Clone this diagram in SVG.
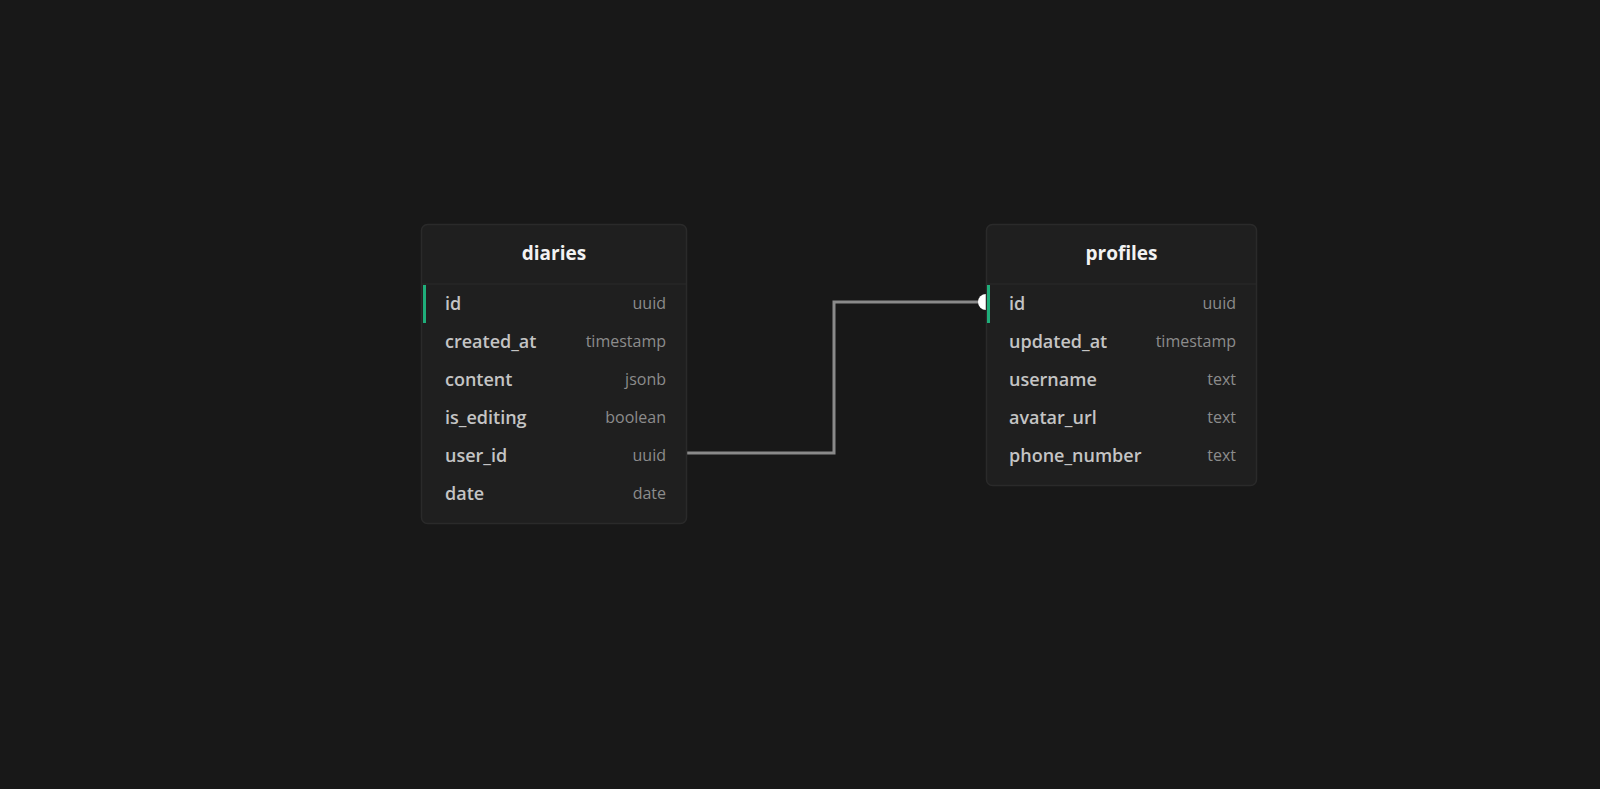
<svg xmlns="http://www.w3.org/2000/svg" width="1600" height="789" viewBox="0 0 1600 789">
<defs>
<style>
.bg{fill:#181818}
.node{fill:#1f1f1f;stroke:#2a2a2a;stroke-width:1.5}
.sep{stroke:#2b2b2b;stroke-width:1}
.title{font-family:"Open Sans","Liberation Sans",sans-serif;font-weight:700;font-size:19px;fill:#f2f2f2;text-anchor:middle}
.col{font-family:"Open Sans","Liberation Sans",sans-serif;font-weight:600;font-size:18px;fill:#c4c4c4}
.type{font-family:"Open Sans","Liberation Sans",sans-serif;font-size:16px;fill:#8c8c8c;text-anchor:end}
.pk{fill:#1fae7a}
.edge{fill:none;stroke:#8a8a8a;stroke-width:3}
</style>
</defs>
<rect class="bg" x="0" y="0" width="1600" height="789"/>
<g id="connectors">
<path class="edge" d="M687 453 H834 V302 H986"/>
<path d="M986 294 A8 8 0 0 0 986 310 Z" fill="#ffffff"/>
</g>
<g id="diaries">
<rect class="node" x="421.5" y="224.5" width="265" height="299" rx="6"/>
<line class="sep" x1="422" y1="284" x2="686" y2="284"/>
<text class="title" x="554" y="260">diaries</text>
<rect class="pk" x="423" y="285" width="3" height="38"/>
<text class="col" x="445" y="310">id</text><text class="type" x="666" y="309">uuid</text>
<text class="col" x="445" y="348">created_at</text><text class="type" x="666" y="347">timestamp</text>
<text class="col" x="445" y="386">content</text><text class="type" x="666" y="385">jsonb</text>
<text class="col" x="445" y="424">is_editing</text><text class="type" x="666" y="423">boolean</text>
<text class="col" x="445" y="462">user_id</text><text class="type" x="666" y="461">uuid</text>
<text class="col" x="445" y="500">date</text><text class="type" x="666" y="499">date</text>
</g>
<g id="profiles">
<rect class="node" x="986.5" y="224.5" width="270" height="261" rx="6"/>
<line class="sep" x1="987" y1="284" x2="1256" y2="284"/>
<text class="title" x="1121.5" y="260">profiles</text>
<rect class="pk" x="987" y="285" width="3" height="38"/>
<text class="col" x="1009" y="310">id</text><text class="type" x="1236" y="309">uuid</text>
<text class="col" x="1009" y="348">updated_at</text><text class="type" x="1236" y="347">timestamp</text>
<text class="col" x="1009" y="386">username</text><text class="type" x="1236" y="385">text</text>
<text class="col" x="1009" y="424">avatar_url</text><text class="type" x="1236" y="423">text</text>
<text class="col" x="1009" y="462">phone_number</text><text class="type" x="1236" y="461">text</text>
</g>
</svg>
